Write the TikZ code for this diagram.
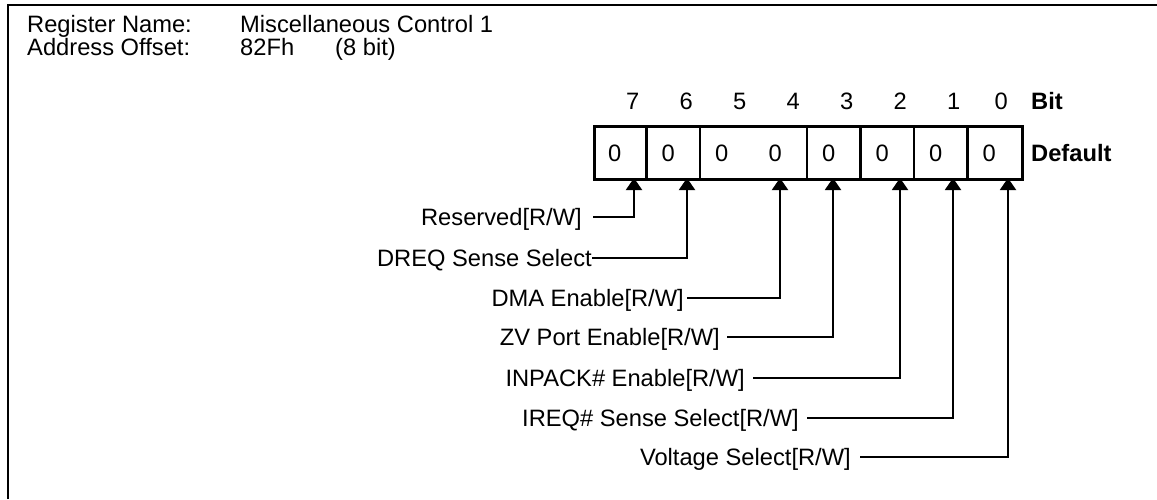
\documentclass[tikz,border=0pt]{standalone}
\usepackage{fontspec}
\setmainfont{Liberation Sans}
\usetikzlibrary{arrows.meta}

\begin{document}
\begin{tikzpicture}[x=1pt, y=-1pt,
    txt/.style={font=\fontsize{23.7}{27}\selectfont, inner sep=0pt},
    lbl/.style={txt, anchor=east, text height=17pt, text depth=0pt},
    wire/.style={line width=2pt, -{Triangle[width=16pt, length=12pt]}}]
\useasboundingbox (0,0) rectangle (1157,499);
\draw[line width=2pt] (8,499) -- (8,5) -- (1157,5);
% header
\node[txt, anchor=base west] (regname) at (27,32) {Register Name:};
\node[txt, anchor=base west] (regval) at (240,32) {Miscellaneous Control 1};
\node[txt, anchor=base west] (offname) at (27,55) {Address Offset:};
\node[txt, anchor=base west] (offval) at (240,55) {82Fh};
\node[txt, anchor=base west] (offwidth) at (335,55) {(8 bit)};
% register box
\node[draw, line width=2.5pt, minimum width=428pt, minimum height=53pt, inner sep=0pt, anchor=north west] (reg) at (593,125) {};
\foreach \x in {646.5,700,807,860.5,914,967.5}
    \draw[line width=2.5pt] (\x,125) -- (\x,178);
\foreach \b/\dx [count=\i from 0] in {7/13,6/13,5/13,4/13,3/13,2/13,1/13,0/7} {
    \pgfmathsetmacro{\xc}{619.75+53.5*\i}
    \node[txt] (bit\b) at (\xc+\dx,101) {\b};
    \node[txt] (def\b) at (\xc-5,153) {0};
}
\node[txt, font=\fontsize{23.7}{27}\selectfont\bfseries, anchor=west] (bithead) at (1031,101) {Bit};
\node[txt, font=\fontsize{23.7}{27}\selectfont\bfseries, anchor=west] (defhead) at (1031,153) {Default};
% fields
\foreach \b/\xa/\ya/\xs/\gap/\name in {
    7/634/217/593/11/{Reserved[R/W]},
    6/687/258/592/0/{DREQ Sense Select},
    4/780/298/687/3/{DMA Enable[R/W]},
    3/833/337/727/7/{ZV Port Enable[R/W]},
    2/900/378/753/8/{INPACK\# Enable[R/W]},
    1/953/418/807/8/{IREQ\# Sense Select[R/W]},
    0/1008/457/860/9/{Voltage Select[R/W]}
} {
    \coordinate (a\b) at (\xa,178);
    \node[lbl, inner xsep=\gap pt] (f\b) at (\xs,\ya) {\name};
    \draw[wire] (f\b.east) -| (a\b);
}
\end{tikzpicture}
\end{document}
